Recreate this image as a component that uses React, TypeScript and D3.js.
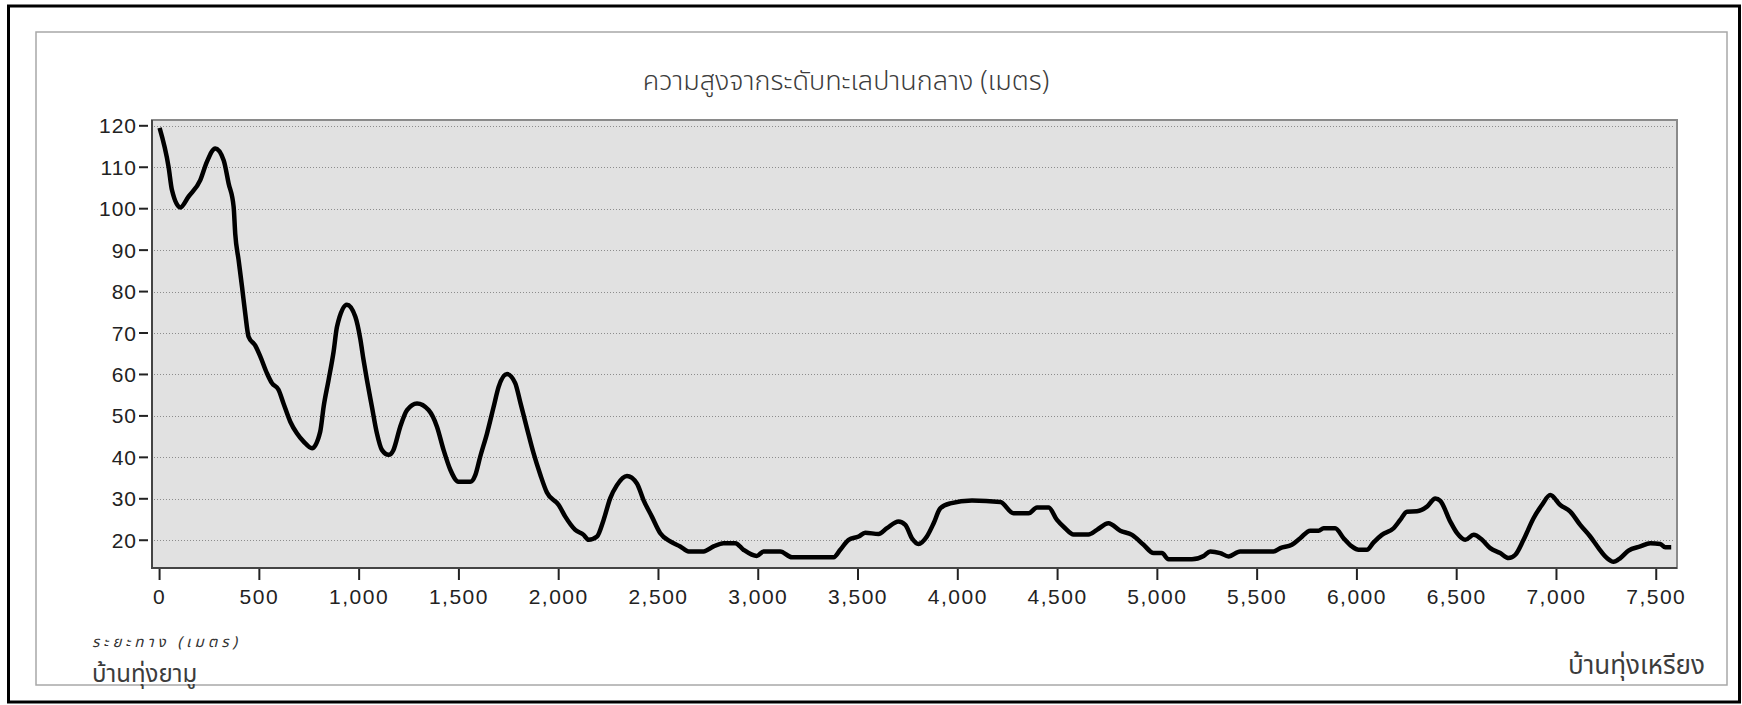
import React, { useEffect, useRef } from 'react';
import * as d3 from 'd3';

// distance from บ้านทุ่งยามู (m) and elevation above mean sea level (m)
const distance = [
  0, 45, 62, 104, 145, 204, 237, 279, 321, 346, 371, 379, 396, 413, 429, 446, 479, 505, 538, 563,
  596, 621, 655, 688, 722, 764, 805, 822, 847, 872, 889, 939, 981, 1006, 1022, 1039, 1064, 1089, 1114, 1148,
  1172, 1206, 1240, 1290, 1348, 1390, 1423, 1457, 1498, 1557, 1582, 1607, 1641, 1674, 1699, 1741, 1782, 1807, 1841, 1874,
  1908, 1941, 2000, 2033, 2083, 2125, 2150, 2192, 2225, 2258, 2292, 2342, 2392, 2425, 2467, 2509, 2559, 2609, 2651, 2726,
  2776, 2826, 2885, 2926, 2993, 3027, 3110, 3169, 3378, 3411, 3453, 3503, 3536, 3603, 3645, 3703, 3737, 3770, 3803, 3845,
  3879, 3912, 3962, 4071, 4213, 4279, 4355, 4397, 4455, 4497, 4538, 4580, 4655, 4697, 4755, 4814, 4873, 4931, 4981, 5023,
  5056, 5173, 5232, 5265, 5315, 5357, 5415, 5582, 5616, 5674, 5716, 5766, 5808, 5833, 5891, 5933, 5975, 6008, 6050, 6084,
  6125, 6184, 6217, 6251, 6301, 6351, 6393, 6418, 6468, 6502, 6543, 6585, 6627, 6668, 6718, 6760, 6794, 6835, 6885, 6927,
  6969, 7019, 7069, 7119, 7169, 7211, 7253, 7286, 7320, 7361, 7420, 7470, 7520, 7545, 7575,
];
const elevation = [
  119.5, 110.1, 104.5, 100.3, 102.9, 106.9, 111.3, 114.5, 111.7, 106.1, 100.5, 94, 87.6, 81.2, 74.8, 69.1, 67, 64.3, 60.3, 57.9,
  56.3, 53, 48.6, 45.8, 43.8, 42.2, 46.2, 52.2, 58.7, 65.5, 71.5, 76.8, 73.9, 68.5, 63.5, 58.7, 52.2, 45.8, 41.8, 40.6,
  41.8, 47.4, 51.4, 53, 51.4, 47.4, 41.8, 37, 34.1, 34.1, 35.7, 40.2, 45.8, 52.2, 57, 60.1, 57.9, 53.4, 47, 41,
  35.8, 31.5, 28.5, 25.7, 22.5, 21.3, 20.1, 20.9, 24.9, 30.1, 33.3, 35.5, 33.7, 29.7, 25.7, 21.7, 19.7, 18.5, 17.3, 17.3,
  18.5, 19.3, 19.3, 17.7, 16.2, 17.3, 17.3, 15.9, 15.9, 17.7, 20.1, 20.9, 21.8, 21.5, 22.9, 24.5, 23.7, 20.5, 19.1, 20.9,
  24.1, 27.7, 28.9, 29.6, 29.2, 26.5, 26.5, 27.9, 27.9, 24.9, 22.9, 21.4, 21.4, 22.5, 24.1, 22.3, 21.3, 18.9, 16.9, 16.9,
  15.4, 15.4, 16.2, 17.3, 16.9, 16.1, 17.3, 17.3, 18.1, 18.9, 20.5, 22.3, 22.3, 22.9, 22.9, 20.5, 18.5, 17.7, 17.7, 19.5,
  21.3, 22.9, 24.9, 26.9, 27, 28.1, 30.1, 29.5, 24.5, 21.7, 20.1, 21.3, 20.1, 18.1, 16.9, 15.7, 16.5, 20.1, 25.3, 28.5,
  30.9, 28.5, 26.9, 23.7, 20.9, 18.1, 15.7, 14.8, 15.7, 17.5, 18.5, 19.3, 19.1, 18.3, 18.3,
];

const yTicks = [20, 30, 40, 50, 60, 70, 80, 90, 100, 110, 120];
const xTicks = [0, 500, 1000, 1500, 2000, 2500, 3000, 3500, 4000, 4500, 5000, 5500, 6000, 6500, 7000, 7500];

const title = 'ความสูงจากระดับทะเลปานกลาง (เมตร)';
const xAxisTitle = 'ระยะทาง (เมตร)';
const startName = 'บ้านทุ่งยามู';
const endName = 'บ้านทุ่งเหรียง';

const App: React.FC = () => {
  const svgRef = useRef<SVGSVGElement>(null);

  useEffect(() => {
    if (!svgRef.current) return;

    const width = 1742;
    const height = 705;
    const plot = { left: 152, top: 120, right: 1677, bottom: 568 };
    const numFont = "'Liberation Sans', Arial, sans-serif";
    const thaiFont = "Tahoma, 'Noto Sans Thai', 'Loma', 'Garuda', 'Noto Sans', sans-serif";

    const x = d3.scaleLinear().domain([-38, 7604]).range([plot.left, plot.right]);
    const y = d3.scaleLinear().domain([13.3, 121.4]).range([plot.bottom, plot.top]);

    const svg = d3.select(svgRef.current)
      .attr('width', width)
      .attr('height', height)
      .html('');

    svg.append('rect')
      .attr('width', width).attr('height', height)
      .style('fill', '#fff');

    // outer black frame
    svg.append('rect')
      .attr('x', 8.5).attr('y', 6)
      .attr('width', 1731).attr('height', 696)
      .style('fill', 'none')
      .style('stroke', '#000')
      .style('stroke-width', 3);

    // chart panel
    svg.append('rect')
      .attr('x', 36).attr('y', 32)
      .attr('width', 1691).attr('height', 653)
      .style('fill', '#fff')
      .style('stroke', '#a8a8a8')
      .style('stroke-width', 1.5);

    svg.append('text')
      .attr('x', 846).attr('y', 90)
      .attr('text-anchor', 'middle')
      .style('font-family', thaiFont)
      .style('font-size', '27px')
      .style('font-weight', 300)
      .style('fill', '#3c3c3c')
      .text(title);

    // plot background
    svg.append('rect')
      .attr('x', plot.left).attr('y', plot.top)
      .attr('width', plot.right - plot.left).attr('height', plot.bottom - plot.top)
      .style('fill', '#e1e1e1')
      .style('stroke', '#8a8a8a')
      .style('stroke-width', 2);

    // gridlines
    svg.append('g')
      .selectAll('line')
      .data(yTicks)
      .enter().append('line')
      .attr('x1', plot.left + 2).attr('x2', plot.right - 2)
      .attr('y1', d => Math.round(y(d)) + 0.5).attr('y2', d => Math.round(y(d)) + 0.5)
      .style('stroke', '#8c8c8c')
      .style('stroke-width', 1)
      .style('stroke-dasharray', '1 2');

    // axis lines (left & bottom)
    svg.append('path')
      .attr('d', `M${plot.left},${plot.top} V${plot.bottom} H${plot.right}`)
      .style('fill', 'none')
      .style('stroke', '#444')
      .style('stroke-width', 2);

    // y ticks
    const yAxis = svg.append('g').selectAll('g').data(yTicks).enter().append('g');
    yAxis.append('line')
      .attr('x1', 139).attr('x2', 148)
      .attr('y1', d => y(d)).attr('y2', d => y(d))
      .style('stroke', '#222')
      .style('stroke-width', 2);
    yAxis.append('text')
      .attr('x', 137)
      .attr('y', d => y(d) + 7.5)
      .attr('text-anchor', 'end')
      .style('font-family', numFont)
      .style('font-size', '21px')
      .style('letter-spacing', '1px')
      .style('fill', '#222')
      .text(d => d);

    // x ticks
    const fmt = d3.format(',');
    const xAxis = svg.append('g').selectAll('g').data(xTicks).enter().append('g');
    xAxis.append('line')
      .attr('x1', d => x(d)).attr('x2', d => x(d))
      .attr('y1', plot.bottom + 1).attr('y2', plot.bottom + 12)
      .style('stroke', '#222')
      .style('stroke-width', 2);
    xAxis.append('text')
      .attr('x', d => x(d))
      .attr('y', 604)
      .attr('text-anchor', 'middle')
      .style('font-family', numFont)
      .style('font-size', '21px')
      .style('letter-spacing', '1.5px')
      .style('fill', '#222')
      .text(d => fmt(d));

    // elevation profile
    const points = distance.map((d, i) => [d, elevation[i]] as [number, number]);
    const line = d3.line<[number, number]>()
      .x(d => x(d[0]))
      .y(d => y(d[1]))
      .curve(d3.curveMonotoneX);

    svg.append('path')
      .datum(points)
      .attr('d', line)
      .style('fill', 'none')
      .style('stroke', '#000')
      .style('stroke-width', 4.5)
      .style('stroke-linejoin', 'round');

    // bottom labels
    svg.append('text')
      .attr('x', 92).attr('y', 647)
      .style('font-family', thaiFont)
      .style('font-size', '15px')
      .style('font-style', 'italic')
      .style('letter-spacing', '4px')
      .style('fill', '#333')
      .text(xAxisTitle);

    svg.append('text')
      .attr('x', 92).attr('y', 682)
      .style('font-family', thaiFont)
      .style('font-size', '24px')
      .style('fill', '#3c3c3c')
      .text(startName);

    svg.append('text')
      .attr('x', 1705).attr('y', 674)
      .attr('text-anchor', 'end')
      .style('font-family', thaiFont)
      .style('font-size', '26px')
      .style('fill', '#3c3c3c')
      .text(endName);
  }, []);

  return (
    <div style={{ position: 'absolute', left: 0, top: 0 }}>
      <svg ref={svgRef} style={{ display: 'block' }}></svg>
    </div>
  );
};

export default App;
